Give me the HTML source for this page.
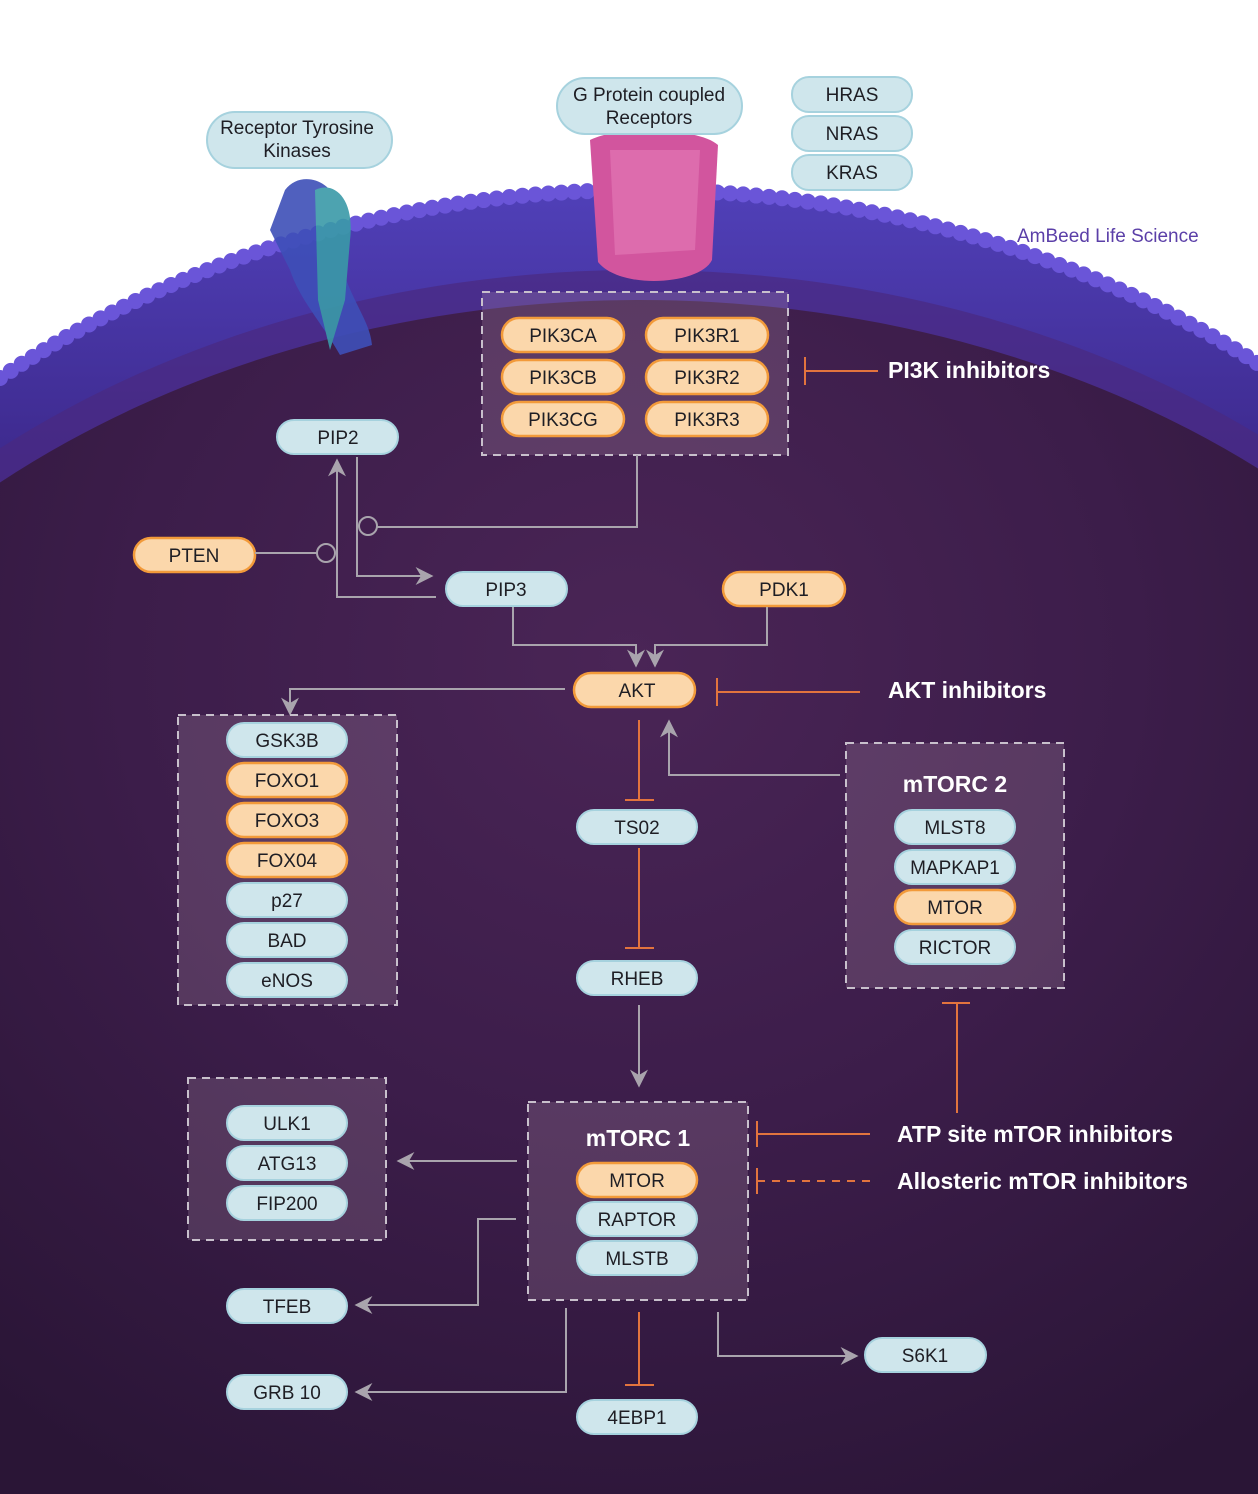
<!DOCTYPE html>
<html><head><meta charset="utf-8"><style>
html,body{margin:0;padding:0;background:#fff;width:1258px;height:1494px;overflow:hidden;}
svg{display:block;font-family:"Liberation Sans",sans-serif;}
.pb{fill:#cfe6ec;stroke:#a6d2de;stroke-width:2;}
.po{fill:#fbd7ab;stroke:#f29a3a;stroke-width:2.5;}
.t{font-size:19px;fill:#1e1e24;text-anchor:middle;}
.grp{fill:rgba(200,170,190,0.2);stroke:#c8c0cc;stroke-width:2;stroke-dasharray:8 6;}
.ln{fill:none;stroke:#a9a4ad;stroke-width:2;}
.inh{fill:none;stroke:#e2743e;stroke-width:2;}
.lab{font-size:23px;fill:#fff;font-weight:bold;}
</style></head><body>
<svg width="1258" height="1494" viewBox="0 0 1258 1494">
<defs>
<radialGradient id="cell" cx="0.5" cy="0.3" r="0.8">
<stop offset="0" stop-color="#4a2556"/><stop offset="0.5" stop-color="#3c1d4a"/><stop offset="1" stop-color="#2a1536"/>
</radialGradient>
<linearGradient id="mem" x1="0" y1="0" x2="0" y2="1">
<stop offset="0" stop-color="#5040b8"/><stop offset="0.25" stop-color="#3a2585"/><stop offset="1" stop-color="#3a2585"/>
</linearGradient>
<marker id="ar" viewBox="0 0 10 10" refX="8" refY="5" markerWidth="9" markerHeight="9" orient="auto"><path d="M0,0 L10,5 L0,10 L3,5 z" fill="#a9a4ad"/></marker>
</defs>
<rect width="1258" height="1494" fill="#fff"/>
<g>
<path d="M0,1494 L0,378 A1010,830 0 0 1 1258,363.5 L1258,1494 Z" fill="url(#mem)"/>
<path d="M0,378 A1010,830 0 0 1 1258,363.5" fill="none" stroke="#6a55d8" stroke-width="16" stroke-dasharray="0 13" stroke-linecap="round"/>
<path d="M0,1494 L0,448.3 A1000,770 0 0 1 1258,434.6 L1258,1494 Z" fill="#4a2a80" opacity="0.7"/>
<path d="M0,1494 L0,482.5 A990,770 0 0 1 1258,468.5 L1258,1494 Z" fill="url(#cell)"/>
</g>
<g opacity="0.9">
<path d="M285,190 C300,170 330,180 335,200 L340,260 C350,300 370,320 372,345 L340,355 C320,320 300,300 290,270 L270,230 Z" fill="#3e4fb8"/>
<path d="M315,190 C335,180 355,200 350,240 L345,300 L330,350 L318,300 Z" fill="#3a9aa8"/>
</g>
<g>
<path d="M590,140 C620,125 700,128 718,145 L712,260 C700,285 620,290 598,262 Z" fill="#d2559e"/>
<path d="M610,150 L700,150 L695,250 L615,255 Z" fill="#e57bb8" opacity="0.6"/>
</g>
<g><rect x="207" y="112" width="185" height="56" rx="28" class="pb"/><text x="297" y="134" class="t">Receptor Tyrosine</text><text x="297" y="157" class="t">Kinases</text></g>
<g><rect x="557" y="78" width="185" height="56" rx="28" class="pb"/><text x="649" y="101" class="t">G Protein coupled</text><text x="649" y="124" class="t">Receptors</text></g>
<g><rect x="792" y="77" width="120" height="35" rx="17" class="pb"/><text x="852" y="101" class="t">HRAS</text></g>
<g><rect x="792" y="116" width="120" height="35" rx="17" class="pb"/><text x="852" y="140" class="t">NRAS</text></g>
<g><rect x="792" y="155" width="120" height="35" rx="17" class="pb"/><text x="852" y="179" class="t">KRAS</text></g>
<text x="1017" y="242" font-size="19" fill="#5b3fa8">AmBeed Life Science</text>

<rect x="482" y="292" width="306" height="163" class="grp"/>
<g><rect x="502" y="318" width="122" height="34" rx="17" class="po"/><text x="563" y="342" class="t">PIK3CA</text></g>
<g><rect x="502" y="360" width="122" height="34" rx="17" class="po"/><text x="563" y="384" class="t">PIK3CB</text></g>
<g><rect x="502" y="402" width="122" height="34" rx="17" class="po"/><text x="563" y="426" class="t">PIK3CG</text></g>
<g><rect x="646" y="318" width="122" height="34" rx="17" class="po"/><text x="707" y="342" class="t">PIK3R1</text></g>
<g><rect x="646" y="360" width="122" height="34" rx="17" class="po"/><text x="707" y="384" class="t">PIK3R2</text></g>
<g><rect x="646" y="402" width="122" height="34" rx="17" class="po"/><text x="707" y="426" class="t">PIK3R3</text></g>
<path class="inh" d="M805,357 V385 M805,371 H878"/>
<text x="888" y="378" class="lab">PI3K inhibitors</text>

<g><rect x="277" y="420" width="121" height="34" rx="17" class="pb"/><text x="338" y="444" class="t">PIP2</text></g>
<g><rect x="134" y="538" width="121" height="34" rx="17" class="po"/><text x="194" y="562" class="t">PTEN</text></g>
<g><rect x="446" y="572" width="121" height="34" rx="17" class="pb"/><text x="506" y="596" class="t">PIP3</text></g>
<g><rect x="723" y="572" width="122" height="34" rx="17" class="po"/><text x="784" y="596" class="t">PDK1</text></g>
<g><rect x="574" y="673" width="121" height="34" rx="17" class="po"/><text x="637" y="697" class="t">AKT</text></g>

<g>
<path class="ln" d="M637,455 V527 H377"/>
<circle cx="368" cy="526" r="9" class="ln"/>
<path class="ln" d="M357,457 V576 H430" marker-end="url(#ar)"/>
<path class="ln" d="M436,597 H337 V462" marker-end="url(#ar)"/>
<path class="ln" d="M255,553 H317"/>
<circle cx="326" cy="553" r="9" class="ln"/>
<path class="ln" d="M513,607 V645 H636 V664" marker-end="url(#ar)"/>
<path class="ln" d="M767,607 V645 H655 V664" marker-end="url(#ar)"/>
<path class="ln" d="M565,689 H290 V712" marker-end="url(#ar)"/>
<path class="ln" d="M840,775 H669 V723" marker-end="url(#ar)"/>
<path class="ln" d="M639,1005 V1084" marker-end="url(#ar)"/>
<path class="ln" d="M517,1161 H400" marker-end="url(#ar)"/>
<path class="ln" d="M516,1219 H478 V1305 H358" marker-end="url(#ar)"/>
<path class="ln" d="M566,1308 V1392 H358" marker-end="url(#ar)"/>
<path class="ln" d="M718,1312 V1356 H855" marker-end="url(#ar)"/>
<path class="inh" d="M639,720 V800 M625,800 H654"/>
<path class="inh" d="M639,848 V948 M625,948 H654"/>
<path class="inh" d="M639,1312 V1385 M625,1385 H654"/>
<path class="inh" d="M717,678 V706 M717,692 H860"/>
<path class="inh" d="M957,1113 V1003 M942,1003 H970"/>
<path class="inh" d="M757,1121 V1147 M757,1134 H870"/>
<path class="inh" d="M757,1168 V1194"/>
<path class="inh" d="M757,1181 H870" stroke-dasharray="8 7"/>
</g>
<text x="888" y="698" class="lab">AKT inhibitors</text>
<text x="897" y="1142" class="lab">ATP site mTOR inhibitors</text>
<text x="897" y="1189" class="lab">Allosteric mTOR inhibitors</text>

<rect x="178" y="715" width="219" height="290" class="grp"/>
<g><rect x="227" y="723" width="120" height="34" rx="17" class="pb"/><text x="287" y="747" class="t">GSK3B</text></g>
<g><rect x="227" y="763" width="120" height="34" rx="17" class="po"/><text x="287" y="787" class="t">FOXO1</text></g>
<g><rect x="227" y="803" width="120" height="34" rx="17" class="po"/><text x="287" y="827" class="t">FOXO3</text></g>
<g><rect x="227" y="843" width="120" height="34" rx="17" class="po"/><text x="287" y="867" class="t">FOX04</text></g>
<g><rect x="227" y="883" width="120" height="34" rx="17" class="pb"/><text x="287" y="907" class="t">p27</text></g>
<g><rect x="227" y="923" width="120" height="34" rx="17" class="pb"/><text x="287" y="947" class="t">BAD</text></g>
<g><rect x="227" y="963" width="120" height="34" rx="17" class="pb"/><text x="287" y="987" class="t">eNOS</text></g>

<g><rect x="577" y="810" width="120" height="34" rx="17" class="pb"/><text x="637" y="834" class="t">TS02</text></g>
<g><rect x="577" y="961" width="120" height="34" rx="17" class="pb"/><text x="637" y="985" class="t">RHEB</text></g>

<rect x="846" y="743" width="218" height="245" class="grp"/>
<text x="955" y="792" class="lab" text-anchor="middle">mTORC 2</text>
<g><rect x="895" y="810" width="120" height="34" rx="17" class="pb"/><text x="955" y="834" class="t">MLST8</text></g>
<g><rect x="895" y="850" width="120" height="34" rx="17" class="pb"/><text x="955" y="874" class="t">MAPKAP1</text></g>
<g><rect x="895" y="890" width="120" height="34" rx="17" class="po"/><text x="955" y="914" class="t">MTOR</text></g>
<g><rect x="895" y="930" width="120" height="34" rx="17" class="pb"/><text x="955" y="954" class="t">RICTOR</text></g>

<rect x="188" y="1078" width="198" height="162" class="grp"/>
<g><rect x="227" y="1106" width="120" height="34" rx="17" class="pb"/><text x="287" y="1130" class="t">ULK1</text></g>
<g><rect x="227" y="1146" width="120" height="34" rx="17" class="pb"/><text x="287" y="1170" class="t">ATG13</text></g>
<g><rect x="227" y="1186" width="120" height="34" rx="17" class="pb"/><text x="287" y="1210" class="t">FIP200</text></g>

<rect x="528" y="1102" width="220" height="198" class="grp"/>
<text x="638" y="1146" class="lab" text-anchor="middle">mTORC 1</text>
<g><rect x="577" y="1163" width="120" height="34" rx="17" class="po"/><text x="637" y="1187" class="t">MTOR</text></g>
<g><rect x="577" y="1202" width="120" height="34" rx="17" class="pb"/><text x="637" y="1226" class="t">RAPTOR</text></g>
<g><rect x="577" y="1241" width="120" height="34" rx="17" class="pb"/><text x="637" y="1265" class="t">MLSTB</text></g>

<g><rect x="227" y="1289" width="120" height="34" rx="17" class="pb"/><text x="287" y="1313" class="t">TFEB</text></g>
<g><rect x="227" y="1375" width="120" height="34" rx="17" class="pb"/><text x="287" y="1399" class="t">GRB 10</text></g>
<g><rect x="577" y="1400" width="120" height="34" rx="17" class="pb"/><text x="637" y="1424" class="t">4EBP1</text></g>
<g><rect x="865" y="1338" width="121" height="34" rx="17" class="pb"/><text x="925" y="1362" class="t">S6K1</text></g>
</svg>
</body></html>
